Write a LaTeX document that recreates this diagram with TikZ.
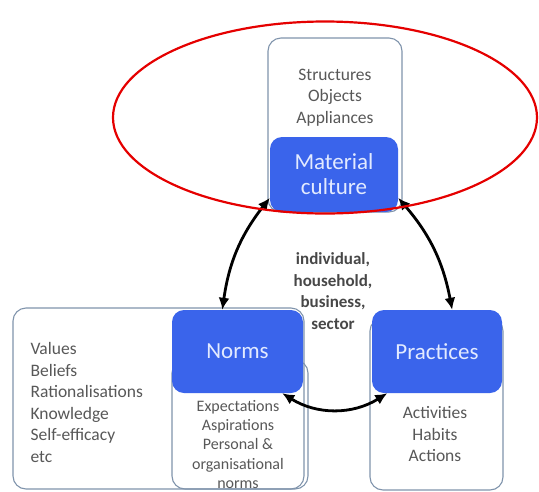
\documentclass[tikz,border=0pt]{standalone}
\usepackage{fontspec}
\setmainfont{Carlito}
\usetikzlibrary{arrows.meta}

\definecolor{boxblue}{RGB}{58,100,235}
\definecolor{framegray}{RGB}{128,148,172}
\definecolor{listgray}{RGB}{88,88,88}
\definecolor{labelwhite}{RGB}{226,234,255}

\begin{document}
\begin{tikzpicture}[x=1pt,y=-1pt,
  frame/.style={draw=framegray,line width=1.1pt,rounded corners=13pt,inner sep=0pt},
  topicbox/.style={fill=boxblue,rounded corners=12pt,inner sep=0pt,text=labelwhite,
    font=\fontsize{23}{25}\selectfont,align=center},
  itemlist/.style={text=listgray,font=\fontsize{17.5}{21.5}\selectfont,align=center},
  link/.style={{Latex[length=12pt,width=11pt]}-{Latex[length=12pt,width=11pt]},line width=2.8pt}]

\useasboundingbox (0,0) rectangle (539,491);

% frames
\node[frame,fill=white,minimum width=134pt,minimum height=174pt] (mcframe) at (335,125) {};
\node[frame,fill=white,minimum width=291pt,minimum height=181pt] (nframe) at (158.5,398.5) {};
\node[frame,minimum width=136pt,minimum height=129pt] (nlower) at (240,424.5) {};
\node[frame,fill=white,minimum width=133pt,minimum height=172pt] (pframe) at (436.5,404) {};

% blue boxes
\node[topicbox,minimum width=128pt,minimum height=75pt] (mcblue) at (334,174.5) {Material\\culture};
\node[topicbox,minimum width=131pt,minimum height=83pt] (normsblue) at (237.5,351.5) {Norms};
\node[topicbox,minimum width=130pt,minimum height=83pt] (practblue) at (437,351.5) {Practices};

% lists
\node[itemlist] (mclist) at (335,97.5) {Structures\\Objects\\Appliances};
\node[itemlist,align=left,anchor=west] (values) at (27,402.5) {Values\\Beliefs\\Rationalisations\\Knowledge\\Self-efficacy\\etc};
\node[itemlist,font=\fontsize{16}{19.2}\selectfont] (nlist) at (238,444.5) {Expectations\\Aspirations\\Personal \&\\organisational\\norms};
\node[itemlist] (plist) at (435,434.5) {Activities\\Habits\\Actions};
\node[itemlist,text=black!72,font=\bfseries\fontsize{17}{21.5}\selectfont] (scale) at (333,291) {individual,\\household,\\business,\\sector};

% arrows
\draw[link] (mcblue.200) to[bend right=15] (normsblue.110);
\draw[link] (mcblue.340) to[bend left=15] (practblue.70);
\draw[link] (normsblue.-43) to[bend right=32] (practblue.220);

\draw[red!90!black,line width=2.2pt] (325,117.5) ellipse [x radius=212pt,y radius=96pt];

\end{tikzpicture}
\end{document}
